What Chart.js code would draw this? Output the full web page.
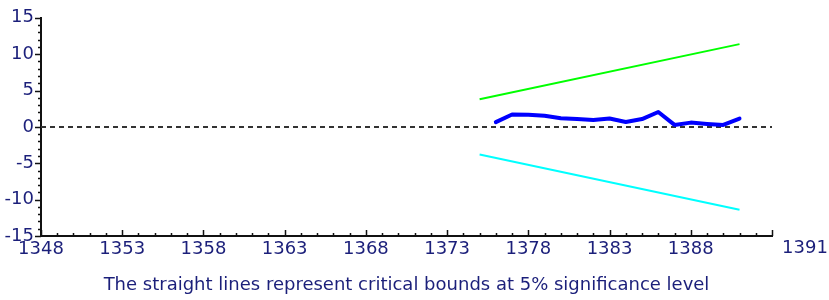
<!DOCTYPE html>
<html>
<head>
<meta charset="utf-8">
<script src="https://cdn.jsdelivr.net/npm/chart.js@4/dist/chart.umd.min.js"></script>
<style>
html,body{margin:0;padding:0;background:#fff;}
#wrap{width:829px;height:300px;}
</style>
</head>
<body>
<div id="wrap"><canvas id="c" width="829" height="300"></canvas></div>
<script>
// ---- data ----
const years = [1376,1377,1378,1379,1380,1381,1382,1383,1384,1385,1386,1387,1388,1389,1390,1391];
const cusum = [0.66,1.70,1.68,1.52,1.20,1.10,0.96,1.15,0.68,1.08,2.05,0.27,0.59,0.41,0.27,1.15];
const boundYears = [1375,1391];
const upperBound = [3.79,11.38];
const lowerBound = [-3.79,-11.38];
const zeroYears = [1348,1393];
const zeroLine = [0,0];
const xTickLabels = [1348,1353,1358,1363,1368,1373,1378,1383,1388];
const xEndLabel = '1391';
const yMajorTicks = [-15,-10,-5,0,5,10,15];
const xMin = 1348, xMax = 1393, yMin = -15, yMax = 15;
const noteText = 'The straight lines represent critical bounds at 5% significance level';

const navy = '#1b1f7a';
const fontFam = "'DejaVu Sans', Verdana, sans-serif";
const fontSize = 18;

const toXY = (xs, ys) => xs.map((x, i) => ({x: x, y: ys[i]}));

const tickPlugin = {
  id: 'ticksAndExtra',
  afterDraw(chart) {
    const ctx = chart.ctx;
    const xs = chart.scales.x, ys = chart.scales.y;
    const axisX = xs.left, axisY = ys.bottom;
    ctx.save();
    ctx.strokeStyle = '#111';
    ctx.lineWidth = 1.5;
    ctx.beginPath();
    for (let v = yMin; v <= yMax; v++) {
      const p = Math.round(ys.getPixelForValue(v)) + 0.5;
      const len = yMajorTicks.includes(v) ? 6 : 3;
      ctx.moveTo(axisX - len, p);
      ctx.lineTo(axisX, p);
    }
    for (let v = xMin; v <= xMax; v++) {
      const p = Math.round(xs.getPixelForValue(v)) + 0.5;
      const len = (xTickLabels.includes(v) || v === xMax) ? 6 : 3;
      ctx.moveTo(p, axisY);
      ctx.lineTo(p, axisY - len);
    }
    ctx.stroke();
    // end label drawn beyond the axis end, as in the reference
    ctx.fillStyle = navy;
    ctx.font = fontSize + 'px ' + fontFam;
    ctx.textAlign = 'center';
    ctx.textBaseline = 'top';
    ctx.fillText(xEndLabel, xs.getPixelForValue(xMax) + 33, xs.top + 3);
    ctx.restore();
  }
};

new Chart(document.getElementById('c'), {
  type: 'line',
  data: {
    datasets: [
      {data: toXY(years, cusum), borderColor: '#0000ff', borderWidth: 4, pointRadius: 0, tension: 0, borderJoinStyle: 'round', borderCapStyle: 'round', order: 1},
      {data: toXY(boundYears, upperBound), borderColor: '#00ff00', borderWidth: 2, pointRadius: 0, order: 2},
      {data: toXY(boundYears, lowerBound), borderColor: '#00ffff', borderWidth: 2, pointRadius: 0, order: 3},
      {data: toXY(zeroYears, zeroLine), borderColor: '#333333', borderWidth: 2, borderDash: [5,4], pointRadius: 0, order: 4}
    ]
  },
  options: {
    responsive: false,
    animation: false,
    layout: {padding: {top: 17, right: 57, left: 0, bottom: 0}},
    plugins: {legend: {display: false}, tooltip: {enabled: false}},
    scales: {
      x: {
        type: 'linear', min: xMin, max: xMax,
        grid: {display: false, drawTicks: false},
        border: {display: true, color: '#111', width: 2},
        ticks: {
          stepSize: 1, autoSkip: false, maxRotation: 0, padding: 3,
          color: navy, font: {family: fontFam, size: fontSize},
          callback: v => xTickLabels.includes(v) ? String(v) : ''
        },
        title: {display: true, text: noteText, color: navy, font: {family: fontFam, size: fontSize}, padding: {top: 4, bottom: 4}},
        afterFit: s => { s.height = 64; }
      },
      y: {
        type: 'linear', min: yMin, max: yMax,
        grid: {display: false, drawTicks: false},
        border: {display: true, color: '#111', width: 2},
        ticks: {
          stepSize: 1, autoSkip: false, padding: 7,
          color: navy, font: {family: fontFam, size: fontSize},
          callback: v => yMajorTicks.includes(v) ? String(v) : ''
        },
        afterFit: s => { s.width = 41; }
      }
    }
  },
  plugins: [tickPlugin]
});
</script>
</body>
</html>
